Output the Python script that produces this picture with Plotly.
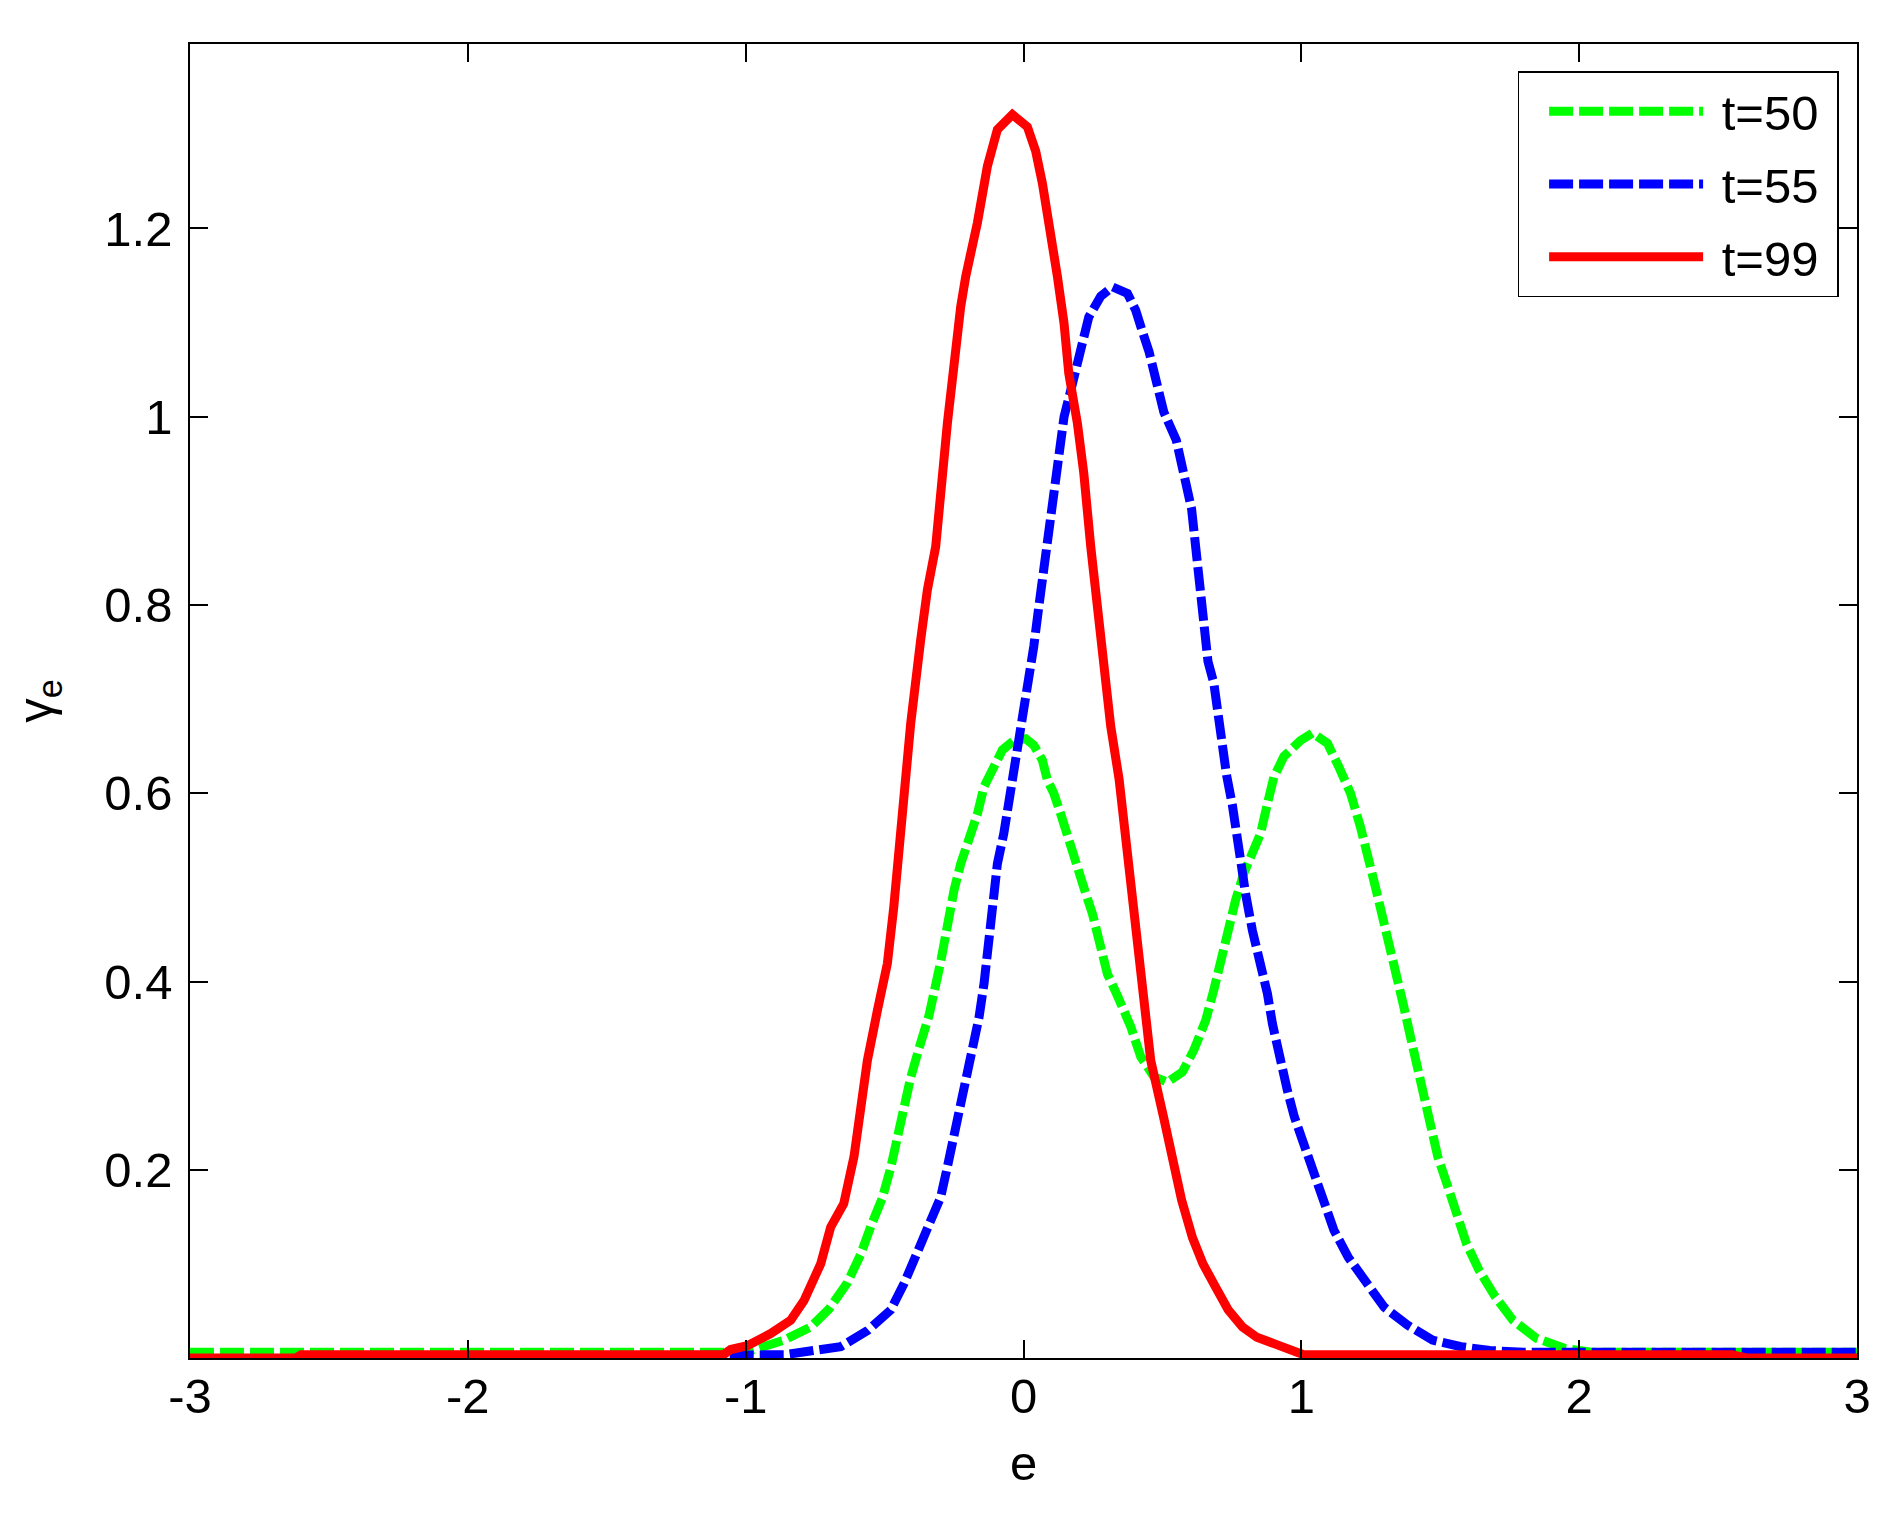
import plotly.graph_objects as go

# ---- data ----
e_t50 = [-3, -1.0, -0.958, -0.862, -0.766, -0.7, -0.634, -0.586, -0.548, -0.508, -0.478, -0.454,
         -0.433, -0.406, -0.376, -0.34, -0.298, -0.274, -0.25, -0.226, -0.196, -0.166, -0.142,
         -0.107, -0.076, -0.035, 0.008, 0.037, 0.068, 0.086, 0.109, 0.134, 0.158, 0.188, 0.217,
         0.248, 0.278, 0.302, 0.338, 0.386, 0.422, 0.469, 0.518, 0.572, 0.613, 0.656, 0.685,
         0.71, 0.739, 0.763, 0.793, 0.824, 0.853, 0.878, 0.901, 0.937, 0.997, 1.04, 1.094,
         1.135, 1.177, 1.213, 1.243, 1.267, 1.292, 1.315, 1.346, 1.369, 1.393, 1.418, 1.44,
         1.465, 1.491, 1.524, 1.556, 1.595, 1.64, 1.698, 1.762, 1.846, 1.949, 2.05, 3]
g_t50 = [0.006, 0.006, 0.010, 0.019, 0.033, 0.052, 0.080, 0.110, 0.141, 0.170, 0.202, 0.234,
         0.265, 0.298, 0.329, 0.364, 0.421, 0.465, 0.497, 0.525, 0.550, 0.578, 0.607,
         0.628, 0.646, 0.656, 0.658, 0.651, 0.635, 0.614, 0.600, 0.578, 0.557, 0.532, 0.500,
         0.472, 0.440, 0.408, 0.385, 0.352, 0.320, 0.299, 0.293, 0.304, 0.327, 0.359, 0.391,
         0.423, 0.454, 0.486, 0.515, 0.536, 0.557, 0.589, 0.617, 0.639, 0.656, 0.664, 0.653,
         0.628, 0.600, 0.564, 0.532, 0.500, 0.469, 0.437, 0.405, 0.373, 0.341, 0.309, 0.277,
         0.245, 0.214, 0.185, 0.153, 0.121, 0.093, 0.065, 0.040, 0.021, 0.010, 0.006, 0.006]

e_t55 = [-3, -2.55, -2.5, -0.96, -0.86, -0.754, -0.658, -0.562, -0.478, -0.43, -0.382, -0.334,
         -0.298, -0.274, -0.25, -0.226, -0.208, -0.184, -0.16, -0.142, -0.118, -0.094, -0.071,
         -0.053, -0.035, -0.023, 0.001, 0.019, 0.037, 0.055, 0.073, 0.086, 0.116, 0.146, 0.176,
         0.206, 0.235, 0.278, 0.32, 0.374, 0.404, 0.422, 0.452, 0.505, 0.55, 0.605, 0.635,
         0.664, 0.685, 0.698, 0.716, 0.731, 0.752, 0.767, 0.782, 0.8, 0.824, 0.853, 0.878,
         0.896, 0.919, 0.95, 0.975, 1.008, 1.04, 1.079, 1.117, 1.169, 1.233, 1.298, 1.382,
         1.472, 1.575, 1.679, 1.8, 3]
g_t55 = [-0.003, -0.003, 0.0, 0.0035, 0.0035, 0.008, 0.012, 0.029, 0.051, 0.079, 0.111, 0.143,
         0.171, 0.203, 0.235, 0.267, 0.299, 0.330, 0.362, 0.398, 0.462, 0.525, 0.557,
         0.589, 0.628, 0.656, 0.692, 0.720, 0.756, 0.798, 0.841, 0.862, 0.940, 1.000, 1.035,
         1.071, 1.106, 1.128, 1.138, 1.131, 1.113, 1.096, 1.069, 1.005, 0.975, 0.902, 0.812,
         0.740, 0.717, 0.685, 0.653, 0.619, 0.587, 0.555, 0.523, 0.492, 0.454, 0.419, 0.387,
         0.355, 0.322, 0.284, 0.256, 0.228, 0.199, 0.168, 0.136, 0.107, 0.079, 0.054, 0.035,
         0.019, 0.012, 0.008, 0.006, 0.006]

e_t99 = [-3, -2.62, -2.6, -1.08, -1.054, -0.994, -0.91, -0.838, -0.79, -0.73, -0.694, -0.647,
         -0.61, -0.586, -0.562, -0.526, -0.49, -0.467, -0.442, -0.406, -0.37, -0.346, -0.316,
         -0.274, -0.226, -0.208, -0.166, -0.13, -0.094, -0.04, 0.014, 0.044, 0.068, 0.098,
         0.122, 0.146, 0.163, 0.194, 0.217, 0.242, 0.266, 0.29, 0.314, 0.344, 0.37, 0.397,
         0.428, 0.458, 0.504, 0.537, 0.569, 0.608, 0.646, 0.692, 0.737, 0.788, 0.84, 0.904,
         0.956, 1.008, 2.55, 2.6, 3]
g_t99 = [0, 0, 0.0035, 0.0035, 0.009, 0.013, 0.026, 0.040, 0.061, 0.100, 0.139, 0.164,
         0.214, 0.260, 0.316, 0.369, 0.419, 0.479, 0.568, 0.674, 0.763, 0.816, 0.862,
         0.993, 1.117, 1.149, 1.206, 1.266, 1.305, 1.321, 1.308, 1.282, 1.248, 1.198,
         1.149, 1.099, 1.046, 0.993, 0.940, 0.862, 0.798, 0.727, 0.671, 0.615, 0.55, 0.47,
         0.387, 0.316, 0.256, 0.210, 0.168, 0.128, 0.100, 0.075, 0.051, 0.033, 0.022, 0.015,
         0.008, 0.0035, 0.0035, 0, 0]

x_ticks = [-3, -2, -1, 0, 1, 2, 3]
x_tick_text = ["-3", "-2", "-1", "0", "1", "2", "3"]
y_ticks = [0.2, 0.4, 0.6, 0.8, 1.0, 1.2]
y_tick_text = ["0.2", "0.4", "0.6", "0.8", "1", "1.2"]
names = ["t=50", "t=55", "t=99"]
NB = "\u00a0"

FONT = "Arial, 'Liberation Sans', Helvetica, sans-serif"

fig = go.Figure()
fig.add_trace(go.Scatter(x=e_t50, y=g_t50, mode="lines", name=NB + names[0] + NB, legendgroup="a",
                         line=dict(color="#00FF00", width=9, dash="24px,6px")))
fig.add_trace(go.Scatter(x=e_t55, y=g_t55, mode="lines", name=NB + names[1] + NB, legendgroup="b",
                         line=dict(color="#0000FF", width=9, dash="24px,6px")))
fig.add_trace(go.Scatter(x=e_t99, y=g_t99, mode="lines", name=NB + names[2] + NB, legendgroup="c",
                         line=dict(color="#FF0000", width=9)))

axis_common = dict(
    showline=True, linecolor="black", linewidth=1.5, mirror="ticks",
    ticks="inside", ticklen=18, tickwidth=1.5, tickcolor="black",
    showgrid=False, zeroline=False,
    tickfont=dict(family=FONT, size=49, color="black"),
)

fig.update_layout(
    width=1896, height=1519,
    margin=dict(l=182, r=47, t=36, b=169),
    paper_bgcolor="white", plot_bgcolor="white",
    font=dict(family=FONT, size=49, color="black"),
    xaxis=dict(range=[-3, 3], tickvals=x_ticks, ticktext=x_tick_text, ticklabelstandoff=-6,
               **axis_common),
    yaxis=dict(range=[0, 1.396], tickvals=y_ticks, ticktext=y_tick_text, ticklabelstandoff=6,
               title=dict(text="γ<sub>e</sub>", font=dict(family=FONT, size=49), standoff=39),
               **axis_common),
    legend=dict(x=0.98896, y=0.97914, xanchor="right", yanchor="top",
                bgcolor="white", bordercolor="black", borderwidth=1.5,
                font=dict(family=FONT, size=49, color="black"),
                itemwidth=154, indentation=25, tracegroupgap=6),
    annotations=[dict(text="e", xref="paper", yref="paper", x=0.5, y=-0.0802,
                      xanchor="center", yanchor="middle", showarrow=False,
                      font=dict(family=FONT, size=49, color="black"))],
    showlegend=True,
)

fig.write_html("out.html")
